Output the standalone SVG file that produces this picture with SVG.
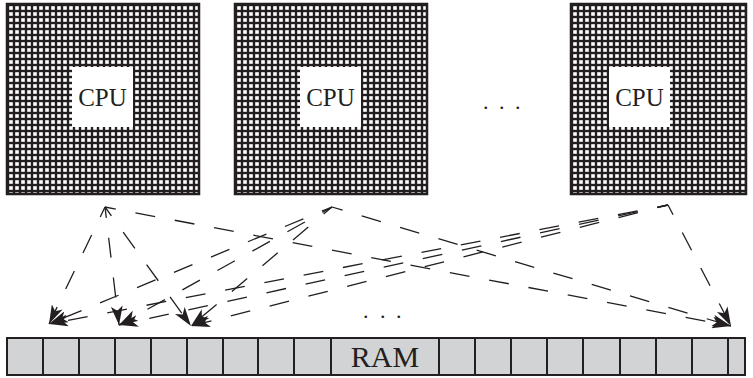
<svg xmlns="http://www.w3.org/2000/svg" width="753" height="378" viewBox="0 0 753 378">
<style>
.blk{fill:url(#grid);stroke:#231f20;stroke-width:2.5}
.cpubox{fill:#fff}
.lbl{font-family:"Liberation Serif","Times New Roman",serif;fill:#231f20}
.cpu{font-size:25px;text-anchor:middle}
.dots{font-size:22px}
.cell{fill:#d1d3d4;stroke:#231f20;stroke-width:2}
.conn{fill:none;stroke:#231f20;stroke-width:1.3;stroke-dasharray:20 20;stroke-dashoffset:9;marker-end:url(#ah)}
</style>
<defs>
<pattern id="grid" patternUnits="userSpaceOnUse" x="7" y="4" width="6" height="6">
<rect width="6" height="6" fill="#231f20"/>
<rect x="2.2" y="2.2" width="3.6" height="3.6" fill="#fff"/>
</pattern>
<marker id="ah" markerUnits="userSpaceOnUse" viewBox="0 0 16 10" markerWidth="19" markerHeight="12" refX="16" refY="5" orient="auto">
<path d="M0,0 L16,5 L0,10 L4,5 z" fill="#231f20"/>
</marker>
</defs>
<rect width="753" height="378" fill="#fff"/>
<g id="cpu1">
<rect class="blk" x="7" y="4" width="192" height="190"/>
<rect class="cpubox" x="72" y="67" width="61" height="60"/>
<text class="lbl cpu" x="102.5" y="106">CPU</text>
</g>
<g id="cpu2">
<rect class="blk" x="235" y="4" width="192" height="190"/>
<rect class="cpubox" x="300" y="67" width="61" height="60"/>
<text class="lbl cpu" x="330.5" y="106">CPU</text>
</g>
<g id="cpu3">
<rect class="blk" x="571" y="4" width="175" height="190"/>
<rect class="cpubox" x="609" y="67" width="61" height="60"/>
<text class="lbl cpu" x="639.5" y="106">CPU</text>
</g>
<g id="dots-cpu">
<text class="lbl dots" x="483 499 515" y="109">...</text>
</g>
<g id="ram">
<rect class="cell" x="7" y="338" width="738" height="37"/>
<path d="M43,338V375M79,338V375M115,338V375M151,338V375M187,338V375M223,338V375M258,338V375M294,338V375M331,338V375M439,338V375M475,338V375M511,338V375M547,338V375M583,338V375M620,338V375M656,338V375M692,338V375M728,338V375" stroke="#231f20" stroke-width="2"/>
<text class="lbl" x="385" y="367" font-size="30" text-anchor="middle">RAM</text>
</g>
<g id="dots-ram">
<text class="lbl dots" x="363 380 396" y="318">...</text>
</g>
<g id="connectors">
<path class="conn" d="M105,207L49,324"/>
<path class="conn" d="M105,207L119,325"/>
<path class="conn" d="M105,207L191,326"/>
<path class="conn" d="M105,207L731,326"/>
<path class="conn" d="M332,207L49,324"/>
<path class="conn" d="M332,207L119,325"/>
<path class="conn" d="M332,207L191,326"/>
<path class="conn" d="M332,207L731,326"/>
<path class="conn" d="M668,205L49,324"/>
<path class="conn" d="M668,205L119,325"/>
<path class="conn" d="M668,205L191,326"/>
<path class="conn" d="M668,205L731,326"/>
</g>
</svg>
